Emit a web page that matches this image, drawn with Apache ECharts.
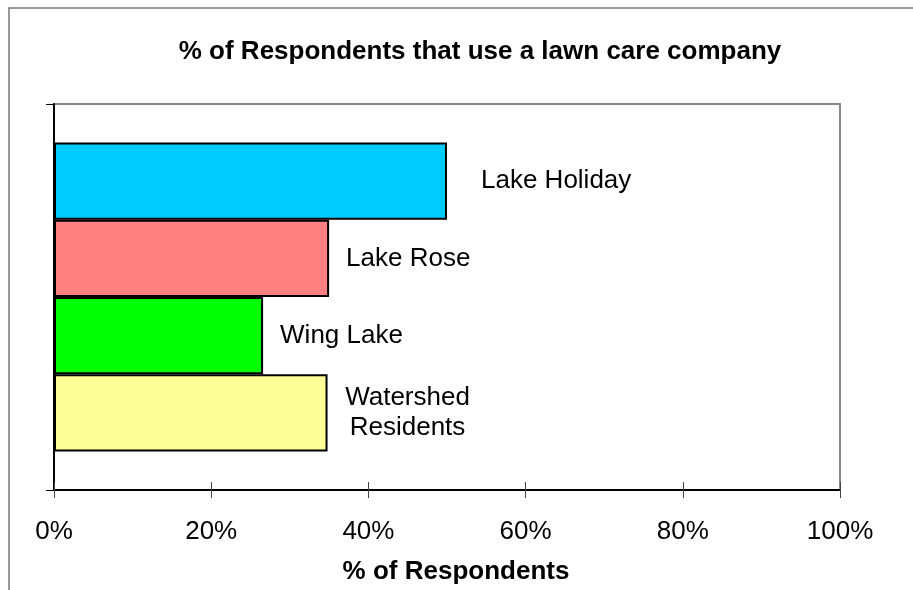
<!DOCTYPE html>
<html>
<head>
<meta charset="utf-8">
<script src="https://cdn.jsdelivr.net/npm/echarts@6/dist/echarts.min.js"></script>
<style>
  html, body { margin: 0; padding: 0; background: #fff; }
  #chart { width: 913px; height: 590px; }
</style>
</head>
<body>
<div id="chart"></div>
<script>
// Lawn care survey: share of respondents using a company, by area (top to bottom)
const areas = ['Lake Holiday', 'Lake Rose', 'Wing Lake', 'Watershed\nResidents'];
const shares = [50.0, 35.0, 26.6, 34.8];
const barColors = ['#00CCFF', '#FF8080', '#00FF00', '#FFFF99'];
const labelGaps = [34, 17, 17, 80];
const xTicks = [0, 20, 40, 60, 80, 100];

const FONT = '"Liberation Sans", Arial, sans-serif';

const series = areas.map((name, i) => ({
  type: 'bar',
  name: name,
  data: [shares[i]],
  barGap: '0%',
  barCategoryGap: '20%',
  itemStyle: { color: barColors[i], borderColor: '#000', borderWidth: 2 },
  label: {
    show: true,
    position: 'right',
    distance: labelGaps[i],
    formatter: name,
    color: '#000',
    fontFamily: FONT,
    fontSize: 26,
    lineHeight: 30,
    align: i === areas.length - 1 ? 'center' : 'left'
  },
  emphasis: { disabled: true },
  animation: false
}));

const chart = echarts.init(document.getElementById('chart'), null, { renderer: 'canvas' });
chart.setOption({
  animation: false,
  backgroundColor: '#fff',
  title: {
    text: '% of Respondents that use a lawn care company',
    left: 475,
    textAlign: 'center',
    top: 34,
    textStyle: { fontFamily: FONT, fontSize: 26, fontWeight: 'bold', color: '#000' }
  },
  graphic: [{
    type: 'polyline',
    shape: { points: [[9, 590], [9, 8], [913, 8]] },
    style: { stroke: '#777', lineWidth: 1.5, fill: null },
    silent: true
  }],
  grid: {
    left: 54, right: 73, top: 104, bottom: 98,
    show: true, borderColor: '#888', borderWidth: 2, backgroundColor: 'transparent'
  },
  xAxis: [{
    type: 'value',
    min: xTicks[0], max: xTicks[xTicks.length - 1], interval: 20,
    position: 'bottom',
    axisLine: { show: true, lineStyle: { color: '#000', width: 2 } },
    axisTick: { show: true, length: 8, lineStyle: { color: '#444', width: 1 } },
    splitLine: { show: false },
    axisLabel: {
      margin: 29,
      formatter: v => v + '%',
      color: '#000', fontFamily: FONT, fontSize: 26
    },
    name: '% of Respondents',
    nameLocation: 'middle',
    nameGap: 69,
    nameTextStyle: {
      fontFamily: FONT, fontSize: 26, fontWeight: 'bold', color: '#000',
      padding: [0, 0, 0, 18]
    }
  }, {
    type: 'value',
    min: xTicks[0], max: xTicks[xTicks.length - 1], interval: 20,
    position: 'bottom',
    axisLine: { show: false },
    axisTick: { show: true, inside: true, length: 8, lineStyle: { color: '#444', width: 1 } },
    splitLine: { show: false },
    axisLabel: { show: false }
  }],
  yAxis: {
    type: 'category',
    data: [''],
    inverse: true,
    axisLine: { show: true, lineStyle: { color: '#000', width: 2 } },
    axisTick: { show: true, length: 8, lineStyle: { color: '#000', width: 1 } },
    axisLabel: { show: false },
    splitLine: { show: false }
  },
  series: series
});
</script>
</body>
</html>
